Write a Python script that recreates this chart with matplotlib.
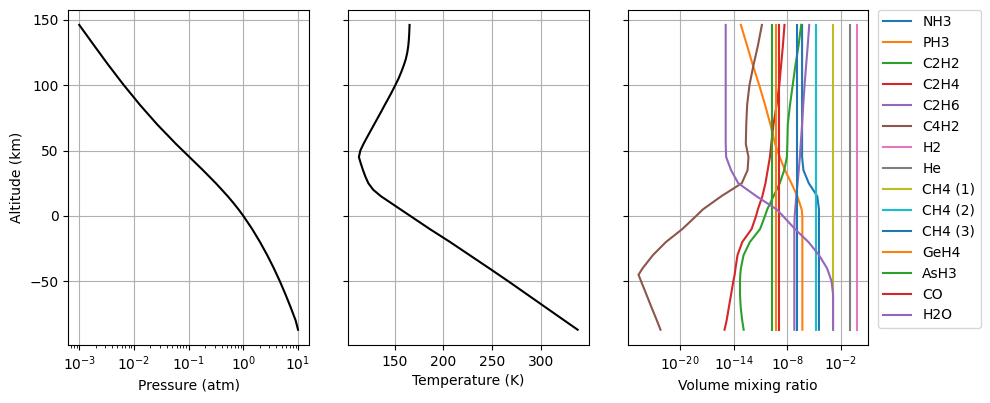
import numpy as np
import matplotlib
matplotlib.use('Agg')
import matplotlib.pyplot as plt

# ALTITUDE GRID FOR THE THERMAL PROFILE (km)
altitude_pt = [146, 140, 135, 130, 125, 120, 115, 110, 105, 100, 95, 90, 85,
               80, 75, 70, 65, 60, 55, 50, 45, 40, 35, 30, 25, 20, 15, 10, 5,
               0, -10, -20, -30, -40, -50, -60, -70, -80, -87]

# PRESSURE (atm) AND TEMPERATURE (K)
pressure = [1.0e-3, 1.269e-3, 1.549e-3, 1.888e-3, 2.312e-3, 2.825e-3, 3.46e-3,
            4.276e-3, 5.272e-3, 6.52e-3, 8.17e-3, 1.023e-2, 1.28e-2, 1.63e-2,
            2.08e-2, 2.65e-2, 3.45e-2, 4.51e-2, 5.87e-2, 7.80e-2, 0.1035,
            0.1374, 0.1824, 0.2393, 0.314, 0.4046, 0.520, 0.656, 0.816, 1.0,
            1.45, 2.02, 2.735, 3.61, 4.66, 5.90, 7.36, 9.06, 10.0]
temperature = [165.3, 165.0, 164.6, 164.0, 163.0, 161.5, 159.3, 156.8, 154.0,
               150.7, 147.3, 143.7, 140.0, 136.4, 132.7, 129.0, 125.3, 121.6,
               118.0, 114.8, 113.3, 115.3, 117.5, 120.0, 123.0, 128.0, 136.0,
               146.0, 156.0, 166.0, 186.0, 207.0, 227.0, 247.0, 266.7, 285.9,
               305.1, 324.3, 337.8]

# ALTITUDE GRID FOR THE COMPOSITION (km)
altitude = [146, 130, 115, 100, 85, 70, 55, 45, 35, 25, 15, 5, 0,
            -10, -20, -30, -40, -45, -50, -60, -70, -80, -87]

# LOG10 OF THE VOLUME MIXING RATIO
nh3 = [-6.35, -6.35, -6.35, -6.35, -6.35, -6.35, -6.35, -6.35, -6.2, -5.6,
       -4.65, -4.46, -4.46, -4.46, -4.46, -4.46, -4.46, -4.46, -4.46, -4.46,
       -4.46, -4.46, -4.46]
ph3 = [-13.2, -12.5, -11.85, -11.15, -10.5, -9.9, -9.37, -8.85, -8.27, -7.55,
       -6.88, -6.4, -6.32, -6.32, -6.32, -6.32, -6.32, -6.32, -6.32, -6.32,
       -6.32, -6.32, -6.32]
c2h2 = [-6.45, -6.75, -7.1, -7.4, -7.7, -7.95, -8.0, -8.05, -8.35, -8.85,
        -9.55, -10.25, -10.5, -11.05, -12.2, -12.9, -13.2, -13.27, -13.3,
        -13.3, -13.22, -13.05, -12.89]
c2h4 = [-8.32, -8.5, -8.7, -8.9, -9.2, -9.55, -9.8, -9.95, -10.2, -10.45,
        -10.8, -11.3, -11.5, -12.0, -13.05, -13.58, -13.8, -13.9, -14.05,
        -14.3, -14.55, -14.8, -15.03]
c2h6 = [-5.55, -5.72, -5.9, -6.07, -6.22, -6.35, -6.5, -6.6, -6.72, -6.85,
        -7.0, -7.12, -7.18, -7.22, -7.22, -7.22, -7.22, -7.22, -7.22, -7.22,
        -7.22, -7.22, -7.22]
c4h2 = [-10.85, -11.3, -11.8, -12.24, -12.5, -12.6, -12.65, -12.35, -12.45,
        -13.1, -15.4, -17.45, -18.2, -19.75, -21.6, -23.05, -24.2, -24.66,
        -24.37, -23.78, -23.2, -22.6, -22.2]
h2o = [-14.9, -14.9, -14.9, -14.9, -14.9, -14.9, -14.9, -14.85, -14.3, -13.5,
       -11.45, -9.2, -8.5, -7.15, -5.63, -4.45, -3.56, -3.3, -3.05, -2.88,
       -2.88, -2.88, -2.88]

# CONSTANT SPECIES (log10 vmr)
h2_val = -0.17
he_val = -0.97
ch4_1_val = -2.88
ch4_2_val = -4.8
ch4_3_val = -6.88
geh4_val = -9.28
ash3_val = -9.73
co_val = -8.92

n = len(altitude)
species = [
    ('NH3', nh3), ('PH3', ph3), ('C2H2', c2h2), ('C2H4', c2h4),
    ('C2H6', c2h6), ('C4H2', c4h2), ('H2', [h2_val] * n), ('He', [he_val] * n),
    ('CH4 (1)', [ch4_1_val] * n), ('CH4 (2)', [ch4_2_val] * n),
    ('CH4 (3)', [ch4_3_val] * n), ('GeH4', [geh4_val] * n),
    ('AsH3', [ash3_val] * n), ('CO', [co_val] * n), ('H2O', h2o),
]

# GRAFICAR
fig, axs = plt.subplots(1, 3, sharey=True, figsize=(9.9, 4.03), dpi=100)
fig.subplots_adjust(left=0.069, right=0.877, bottom=0.144, top=0.976, wspace=0.162)

axs[0].plot(pressure, altitude_pt, color='black')
axs[0].set_xscale('log')
axs[0].set_xlabel('Pressure (atm)')
axs[0].set_ylabel('Altitude (km)')
axs[0].grid(True)

axs[1].plot(temperature, altitude_pt, color='black')
axs[1].set_xlabel('Temperature (K)')
axs[1].grid(True)

for name, vals in species:
    axs[2].plot(10.0 ** np.array(vals), altitude, label=name)
axs[2].set_xscale('log')
axs[2].set_xlabel('Volume mixing ratio')
axs[2].grid(True)
axs[2].legend(loc='upper left', bbox_to_anchor=(1.04, 1.0), borderaxespad=0)

fig.savefig('out.png')
